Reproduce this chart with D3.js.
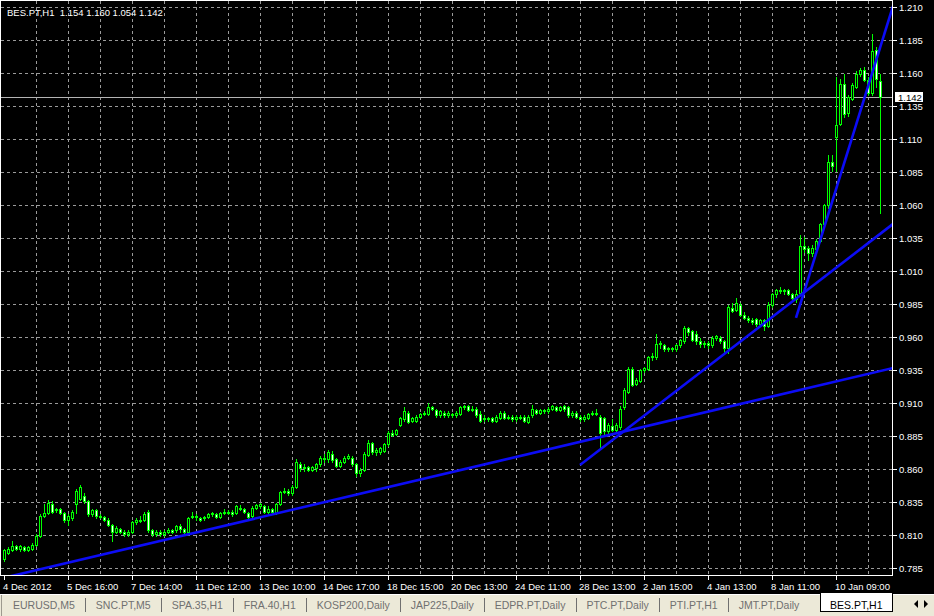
<!DOCTYPE html>
<html><head><meta charset="utf-8">
<script src="https://cdn.jsdelivr.net/npm/d3@7/dist/d3.min.js"></script>
<style>
html,body{margin:0;padding:0;background:#000;overflow:hidden}
svg{display:block}
text{font-family:"Liberation Sans",Arial,sans-serif;white-space:pre}
</style></head><body>
<svg id="c" width="934" height="616"></svg>
<script>
// ---------------- DATA ----------------
const symbol = "BES.PT,H1";
const opens = [
.792,.797,.799,.802,.800,.801,.799,.800,.803,.810,.825,.827,.834,.829,.830,.827,.822,.823,.834,.838,
.840,.836,.826,.829,.825,.824,.822,.818,.813,.815,.813,.811,.813,.820,.821,.822,.828,.814,.811,.813,
.811,.813,.814,.814,.817,.815,.813,.824,.825,.823,.823,.824,.826,.826,.824,.827,.828,.828,.827,.831,
.830,.827,.825,.831,.832,.832,.828,.830,.827,.834,.843,.844,.842,.847,.864,.861,.862,.860,.861,.864,
.869,.868,.872,.868,.863,.866,.869,.869,.864,.857,.860,.871,.880,.873,.873,.874,.879,.888,.887,.894,
.898,.903,.897,.897,.900,.902,.902,.907,.905,.901,.903,.901,.902,.901,.902,.907,.908,.905,.906,.902,
.898,.899,.899,.897,.899,.903,.899,.900,.898,.900,.900,.896,.901,.905,.903,.905,.904,.906,.907,.905,
.908,.907,.901,.903,.900,.898,.899,.902,.903,.900,.899,.889,.893,.890,.892,.907,.919,.936,.925,.927,
.935,.936,.945,.945,.955,.954,.951,.952,.951,.954,.957,.967,.965,.963,.957,.955,.956,.954,.960,.960,
.957,.952,.982,.981,.985,.977,.975,.973,.974,.970,.973,.969,.985,.993,.996,.995,.996,.993,.989,.994,
1.029,1.028,1.024,1.027,1.033,1.046,1.060,1.093,1.112,1.122,1.152,1.130,1.141,1.150,1.160,1.163,1.155,1.145,1.178,1.154];
const highs = [
.800,.801,.806,.803,.803,.802,.802,.804,.811,.826,.834,.837,.836,.831,.831,.828,.826,.829,.845,.848,
.842,.837,.830,.830,.826,.825,.823,.819,.817,.816,.814,.814,.821,.823,.825,.828,.829,.815,.814,.814,
.814,.816,.815,.818,.819,.816,.824,.828,.826,.824,.825,.827,.828,.827,.828,.830,.829,.829,.833,.833,
.831,.828,.832,.834,.835,.833,.832,.831,.835,.844,.846,.845,.848,.868,.866,.864,.863,.863,.865,.870,
.872,.875,.874,.869,.867,.870,.872,.870,.865,.861,.873,.882,.881,.876,.877,.880,.889,.890,.891,.900,
.907,.904,.900,.901,.903,.904,.910,.908,.906,.905,.904,.904,.903,.904,.908,.909,.909,.908,.907,.904,
.901,.900,.900,.901,.904,.904,.901,.901,.901,.901,.901,.901,.909,.906,.906,.906,.907,.909,.908,.908,
.909,.908,.904,.904,.901,.901,.903,.904,.906,.901,.900,.895,.898,.895,.908,.922,.938,.938,.929,.936,
.938,.946,.948,.963,.957,.955,.953,.953,.955,.959,.969,.968,.966,.965,.960,.957,.957,.961,.962,.961,
.958,.985,.986,.990,.986,.979,.976,.975,.975,.974,.974,.987,.994,.997,.998,.997,.997,.994,.996,1.038,
1.036,1.029,1.030,1.035,1.047,1.061,1.098,1.098,1.157,1.156,1.160,1.144,1.153,1.162,1.164,1.165,1.157,1.190,1.180,1.160];
const lows = [
.791,.796,.798,.799,.798,.798,.798,.799,.802,.809,.824,.826,.827,.828,.826,.820,.818,.822,.827,.837,
.835,.825,.825,.823,.823,.821,.817,.806,.812,.812,.810,.810,.812,.819,.820,.821,.813,.810,.810,.810,
.810,.812,.812,.813,.813,.811,.812,.823,.822,.821,.822,.823,.825,.823,.823,.826,.826,.825,.826,.829,
.827,.823,.824,.830,.831,.827,.827,.827,.826,.833,.842,.841,.841,.846,.859,.859,.859,.859,.859,.863,
.866,.866,.866,.862,.862,.865,.868,.863,.855,.855,.859,.870,.872,.871,.872,.873,.878,.885,.886,.893,
.897,.895,.896,.896,.899,.901,.901,.905,.900,.900,.900,.900,.900,.900,.901,.906,.904,.904,.900,.896,
.897,.897,.896,.896,.898,.898,.898,.897,.897,.898,.896,.895,.900,.902,.902,.903,.903,.905,.904,.904,
.904,.900,.900,.899,.897,.897,.898,.901,.901,.876,.887,.888,.889,.889,.891,.906,.918,.923,.924,.926,
.934,.935,.943,.944,.952,.950,.950,.950,.950,.953,.956,.962,.957,.955,.953,.953,.952,.953,.958,.956,
.949,.948,.979,.980,.976,.974,.972,.970,.969,.969,.966,.968,.983,.991,.994,.993,.992,.989,.987,.993,
1.025,1.019,1.022,1.026,1.032,1.045,1.058,1.086,1.086,1.121,1.127,1.128,1.140,1.149,1.158,1.154,1.144,1.144,1.150,1.054];
const closes = [
.799,.800,.802,.800,.802,.799,.801,.803,.810,.825,.827,.835,.828,.830,.827,.822,.825,.828,.844,.847,
.836,.826,.829,.825,.824,.822,.818,.813,.816,.813,.811,.813,.820,.822,.822,.826,.814,.811,.813,.811,
.813,.814,.813,.817,.815,.813,.823,.825,.824,.822,.824,.826,.827,.824,.827,.828,.827,.826,.832,.830,
.828,.824,.831,.833,.834,.828,.830,.828,.834,.843,.844,.842,.847,.866,.861,.862,.860,.862,.864,.869,
.868,.873,.867,.863,.866,.869,.870,.864,.857,.860,.872,.880,.873,.875,.876,.879,.888,.886,.890,.899,
.904,.896,.899,.900,.902,.903,.907,.906,.901,.904,.901,.903,.901,.903,.907,.908,.905,.906,.901,.897,
.899,.898,.897,.900,.903,.899,.900,.898,.900,.899,.897,.900,.906,.903,.905,.904,.906,.908,.905,.907,
.906,.901,.903,.900,.898,.900,.902,.903,.902,.888,.889,.894,.890,.894,.906,.920,.936,.924,.928,.935,
.937,.945,.946,.955,.956,.951,.952,.951,.954,.958,.967,.964,.958,.957,.955,.956,.954,.960,.961,.957,
.952,.983,.980,.986,.977,.975,.973,.972,.970,.973,.969,.985,.993,.996,.995,.996,.993,.990,.993,1.029,
1.027,1.024,1.028,1.033,1.046,1.060,1.093,1.090,1.121,1.152,1.129,1.142,1.151,1.160,1.163,1.155,1.145,1.177,1.156,1.142];
const priceTicks = [0.785,0.810,0.835,0.860,0.885,0.910,0.935,0.960,0.985,1.010,1.035,1.060,1.085,1.110,1.135,1.160,1.185,1.210];
const timeLabels = ["4 Dec 2012","5 Dec 16:00","7 Dec 14:00","11 Dec 12:00","13 Dec 10:00","14 Dec 17:00","18 Dec 15:00",
  "20 Dec 13:00","24 Dec 11:00","28 Dec 13:00","2 Jan 15:00","4 Jan 13:00","8 Jan 11:00","10 Jan 09:00"];
const timeLabelBars = [0,16,32,48,64,80,96,112,128,144,160,176,192,208];
const lastPrice = 1.142;
// trend lines: [bar1, price1, bar2, price2]
const trendLines = [
  [-0.25, 0.7778, 222.25, 0.9369],
  [144, 0.8634, 222.25, 1.0460],
  [198, 0.9748, 222.25, 1.2111]
];
const tabs = ["EURUSD,M5","SNC.PT,M5","SPA.35,H1","FRA.40,H1","KOSP200,Daily","JAP225,Daily",
  "EDPR.PT,Daily","PTC.PT,Daily","PTI.PT,H1","JMT.PT,Daily","BES.PT,H1"];

// ---------------- DRAW ----------------
const W = 934, H = 616;
const plotR = 892, plotB = 575;
const svg = d3.select("#c");
svg.append("rect").attr("width", W).attr("height", H).attr("fill", "#000");

const x = d3.scaleLinear().domain([0, closes.length - 1]).range([4, 880]);
const y = d3.scaleLinear().domain([0.785, 1.210]).range([568.5, 7.5]);

svg.append("defs").append("clipPath").attr("id", "plot")
  .append("rect").attr("x", 1).attr("y", 1).attr("width", plotR - 1).attr("height", plotB - 1);

const g = svg.append("g").attr("clip-path", "url(#plot)");
const gridCol = "#9a9a9a";

// horizontal grid
g.selectAll("line.hg").data(priceTicks).join("line")
  .attr("x1", 1).attr("x2", plotR)
  .attr("y1", d => Math.floor(y(d)) + 0.5).attr("y2", d => Math.floor(y(d)) + 0.5)
  .attr("stroke", gridCol).attr("stroke-dasharray", "3,3").attr("shape-rendering", "crispEdges");

// vertical grid every 8 bars
const vBars = d3.range(8, closes.length, 8);
g.selectAll("line.vg").data(vBars).join("line")
  .attr("x1", d => Math.round(x(d)) + 0.5).attr("x2", d => Math.round(x(d)) + 0.5)
  .attr("y1", 1).attr("y2", plotB)
  .attr("stroke", gridCol).attr("stroke-dasharray", "3,3").attr("shape-rendering", "crispEdges");

// last price line
g.append("line").attr("x1", 1).attr("x2", plotR)
  .attr("y1", Math.floor(y(lastPrice)) + 0.5).attr("y2", Math.floor(y(lastPrice)) + 0.5)
  .attr("stroke", "#b4b4b4").attr("shape-rendering", "crispEdges");

// candles
const bars = closes.map((c, i) => ({i, o: opens[i], h: highs[i], l: lows[i], c}));
const cg = g.append("g").attr("shape-rendering", "crispEdges");
const lime = "#00ff00";
bars.forEach(d => {
  const cx = Math.round(x(d.i));
  const yh = Math.round(y(d.h)), yl = Math.round(y(d.l));
  cg.append("rect").attr("x", cx).attr("y", yh).attr("width", 1).attr("height", Math.max(1, yl - yh + 1)).attr("fill", lime);
  const yt = Math.round(y(Math.max(d.o, d.c))), yb = Math.round(y(Math.min(d.o, d.c)));
  const bh = Math.max(1, yb - yt + 1);
  cg.append("rect").attr("x", cx - 1).attr("y", yt).attr("width", 3).attr("height", bh).attr("fill", lime);
  if (bh > 2) {
    cg.append("rect").attr("x", cx).attr("y", yt + 1).attr("width", 1).attr("height", bh - 2)
      .attr("fill", d.c >= d.o ? "#000" : "#ffffff");
  }
});

// trend lines
g.selectAll("line.tl").data(trendLines).join("line")
  .attr("x1", d => x(d[0])).attr("y1", d => y(d[1]))
  .attr("x2", d => x(d[2])).attr("y2", d => y(d[3]))
  .attr("stroke", "#0c0cf5").attr("stroke-width", 2.6);

// frame
const fr = svg.append("g").attr("shape-rendering", "crispEdges").attr("stroke", "#fff");
fr.append("line").attr("x1", 0).attr("x2", plotR + 1).attr("y1", 0.5).attr("y2", 0.5);
fr.append("line").attr("x1", 0.5).attr("x2", 0.5).attr("y1", 0).attr("y2", plotB + 1);
fr.append("line").attr("x1", plotR + 0.5).attr("x2", plotR + 0.5).attr("y1", 0).attr("y2", plotB + 1);
fr.append("line").attr("x1", 0).attr("x2", plotR + 1).attr("y1", plotB + 0.5).attr("y2", plotB + 0.5);

// price axis
const pa = svg.append("g");
pa.selectAll("line").data(priceTicks).join("line")
  .attr("x1", plotR + 1).attr("x2", plotR + 5)
  .attr("y1", d => Math.floor(y(d)) + 0.5).attr("y2", d => Math.floor(y(d)) + 0.5)
  .attr("stroke", "#fff").attr("shape-rendering", "crispEdges");
pa.selectAll("text").data(priceTicks).join("text")
  .attr("x", 899).attr("y", d => y(d) + 3.5)
  .attr("fill", "#fff").attr("font-size", "9.5px")
  .text(d => d.toFixed(3));
// last price box
const ly = y(lastPrice);
pa.append("rect").attr("x", 895).attr("y", Math.round(ly) - 5).attr("width", 28).attr("height", 10)
  .attr("fill", "#fff").attr("shape-rendering", "crispEdges");
pa.append("text").attr("x", 898).attr("y", ly + 3.5).attr("fill", "#000").attr("font-size", "9.5px")
  .text(lastPrice.toFixed(3));

// time axis
const ta = svg.append("g");
ta.selectAll("line").data(timeLabelBars).join("line")
  .attr("x1", d => Math.round(x(d)) + 0.5).attr("x2", d => Math.round(x(d)) + 0.5)
  .attr("y1", plotB + 1).attr("y2", plotB + 5)
  .attr("stroke", "#fff").attr("shape-rendering", "crispEdges");
ta.selectAll("text").data(timeLabels).join("text")
  .attr("x", (d, k) => x(timeLabelBars[k]) - 1).attr("y", 590)
  .attr("fill", "#fff").attr("font-size", "9.5px")
  .text(d => d);

// header
svg.append("text").attr("x", 7).attr("y", 16).attr("fill", "#fff").attr("font-size", "9.5px")
  .text(`${symbol}  ${opens[opens.length-1].toFixed(3)} ${highs[highs.length-1].toFixed(3)} ${lows[lows.length-1].toFixed(3)} ${closes[closes.length-1].toFixed(3)}`);

// tab strip
const tabY = 594;
const ts = svg.append("g");
ts.append("rect").attr("x", 0).attr("y", tabY).attr("width", W).attr("height", H - tabY).attr("fill", "#ece9d8");
ts.append("line").attr("x1", 0).attr("x2", W).attr("y1", tabY + 0.5).attr("y2", tabY + 0.5)
  .attr("stroke", "#fff").attr("shape-rendering", "crispEdges");
ts.append("line").attr("x1", 1.5).attr("x2", 1.5).attr("y1", tabY + 1).attr("y2", H)
  .attr("stroke", "#9d9a8f").attr("shape-rendering", "crispEdges");
let tx = 13;
const gap = 21;
tabs.forEach((t, k) => {
  const last = k === tabs.length - 1;
  if (last) {
    ts.append("rect").attr("x", 820.5).attr("y", tabY - 0.5).attr("width", 72).attr("height", 18)
      .attr("fill", "#fff").attr("stroke", "#000").attr("shape-rendering", "crispEdges");
    ts.append("rect").attr("x", 821).attr("y", tabY - 1).attr("width", 71).attr("height", 2).attr("fill", "#fff");
    ts.append("text").attr("x", 830).attr("y", 609).attr("fill", "#000").attr("font-size", "10.5px").text(t);
  } else {
    const te = ts.append("text").attr("x", tx).attr("y", 609).attr("fill", "#707070").attr("font-size", "10.5px").text(t);
    const w = te.node().getComputedTextLength();
    if (k < tabs.length - 2) {
      const sx = Math.round(tx + w + gap / 2) + 0.5;
      ts.append("line").attr("x1", sx).attr("x2", sx).attr("y1", 598).attr("y2", 612)
        .attr("stroke", "#707070").attr("shape-rendering", "crispEdges");
    }
    tx += w + gap;
  }
});
// scroll arrows
ts.append("path").attr("d", "M914,604 L918,600 L918,608 Z").attr("fill", "#000");
ts.append("path").attr("d", "M924,600 L928,604 L924,608 Z").attr("fill", "#000");
</script>
</body></html>
